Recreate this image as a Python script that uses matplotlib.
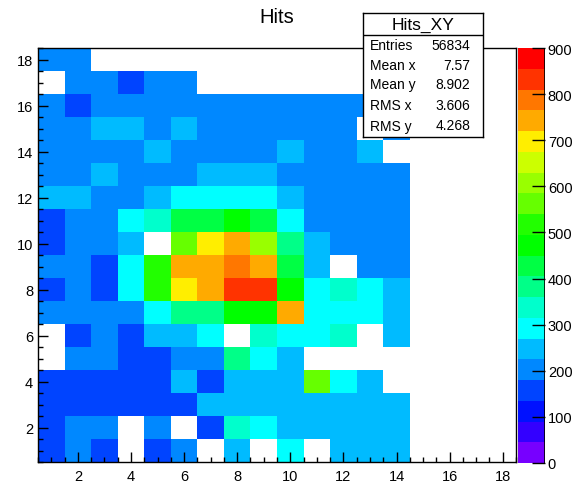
import numpy as np
import matplotlib.pyplot as plt
from matplotlib.colors import ListedColormap, BoundaryNorm
from matplotlib.ticker import MultipleLocator
import matplotlib.cm as cm

plt.rcParams['font.family'] = ['Liberation Sans', 'DejaVu Sans']

# bin contents, rows are y = 1..18, columns x = 1..14 (x = 15..18 are empty)
counts = [
    [160, 200, 160, 0, 160, 200, 0, 245, 0, 290, 0, 245, 245, 245],
    [160, 200, 200, 0, 200, 0, 160, 335, 290, 245, 245, 245, 245, 245],
    [160, 160, 160, 160, 160, 160, 245, 245, 245, 245, 245, 245, 245, 245],
    [160, 160, 160, 160, 160, 245, 160, 245, 245, 245, 560, 290, 245, 0],
    [0, 200, 200, 160, 160, 200, 200, 380, 290, 245, 0, 0, 0, 0],
    [0, 160, 200, 160, 245, 245, 290, 0, 335, 290, 290, 335, 0, 245],
    [200, 200, 200, 200, 290, 380, 380, 470, 470, 740, 290, 290, 290, 245],
    [160, 200, 160, 290, 515, 700, 740, 830, 830, 470, 290, 335, 290, 245],
    [200, 200, 160, 290, 515, 740, 740, 790, 740, 425, 245, 0, 200, 200],
    [160, 200, 200, 245, 0, 560, 700, 740, 605, 380, 245, 200, 200, 200],
    [160, 200, 200, 290, 335, 425, 425, 470, 425, 290, 200, 200, 200, 200],
    [245, 245, 200, 200, 245, 290, 290, 290, 290, 245, 200, 200, 200, 200],
    [200, 200, 245, 200, 200, 200, 245, 245, 245, 200, 200, 200, 200, 200],
    [200, 200, 200, 200, 245, 200, 200, 200, 200, 245, 200, 200, 245, 0],
    [200, 200, 245, 245, 200, 245, 200, 200, 200, 200, 200, 200, 0, 200],
    [200, 160, 200, 200, 200, 200, 200, 200, 200, 200, 200, 200, 200, 200],
    [0, 200, 200, 160, 200, 200, 0, 0, 0, 0, 0, 0, 0, 0],
    [200, 200, 0, 0, 0, 0, 0, 0, 0, 0, 0, 0, 0, 0],
]
nbins = 18
stats_labels = ['Entries', 'Mean x', 'Mean y', 'RMS x', 'RMS y']
stats_values = ['56834', '7.57', '8.902', '3.606', '4.268']

# ROOT-like palette, 20 contour levels from 0 to 900
palette = ['#7700FF', '#3300FF', '#0011FF', '#0044FF', '#0088FF',
           '#00BBFF', '#00FFFF', '#00FFCC', '#00FF88', '#00FF44',
           '#00FF00', '#22FF00', '#66FF00', '#99FF00', '#CCFF00',
           '#FFEE00', '#FFAA00', '#FF7700', '#FF3300', '#FF0000']
levels = np.linspace(0, 900, 21)
cmap = ListedColormap(palette)
norm = BoundaryNorm(levels, cmap.N)

z = np.zeros((nbins, nbins))
for j, row in enumerate(counts):
    z[j, :len(row)] = row
z = np.ma.masked_equal(z, 0)
edges = np.arange(0.5, nbins + 1, 1.0)

W, H = 579, 485
fig = plt.figure(figsize=(W / 100, H / 100), dpi=100)

def px(x0, y0, x1, y1):
    return [x0 / W, 1 - y1 / H, (x1 - x0) / W, (y1 - y0) / H]

ax = fig.add_axes(px(38, 49, 516, 463))
ax.pcolormesh(edges, edges, z, cmap=cmap, norm=norm)
ax.set_xlim(0.5, 18.5)
ax.set_ylim(0.5, 18.5)
ax.xaxis.set_major_locator(MultipleLocator(2))
ax.yaxis.set_major_locator(MultipleLocator(2))
ax.xaxis.set_minor_locator(MultipleLocator(0.5))
ax.yaxis.set_minor_locator(MultipleLocator(0.5))
ax.tick_params(which='both', direction='in', top=False, right=False, labelsize=10.5)
ax.tick_params(which='major', length=7, width=1)
ax.tick_params(which='minor', length=3.5, width=1)
ax.tick_params(axis='x', pad=5)
for s in ax.spines.values():
    s.set_linewidth(1)
ax.set_title('Hits', fontsize=14.5, pad=19)

# colour scale
cax = fig.add_axes(px(518, 49, 545, 464))
sm = cm.ScalarMappable(norm=norm, cmap=cmap)
cb = fig.colorbar(sm, cax=cax, ticks=np.arange(0, 1000, 100))
cb.outline.set_visible(False)
cax.axvline(1, color='black', lw=1.2)
cax.tick_params(direction='in', length=9.5, width=1, labelsize=10.5, pad=2)
cax.minorticks_off()

# stats box
sax = fig.add_axes(px(363, 14, 483, 138))
sax.set_xlim(0, 120)
sax.set_ylim(124, 0)
sax.set_xticks([])
sax.set_yticks([])
sax.set_facecolor('white')
for s in sax.spines.values():
    s.set_linewidth(1)
sax.axhline(22, color='black', lw=1)
sax.text(60, 11, 'Hits_XY', ha='center', va='center', fontsize=12.5)
rows_y = [32, 52, 71, 92.5, 112.5]
for lab, val, yy in zip(stats_labels, stats_values, rows_y):
    sax.text(7, yy, lab, ha='left', va='center', fontsize=10)
    sax.text(107, yy, val, ha='right', va='center', fontsize=10)

fig.savefig('out.png', dpi=100)
